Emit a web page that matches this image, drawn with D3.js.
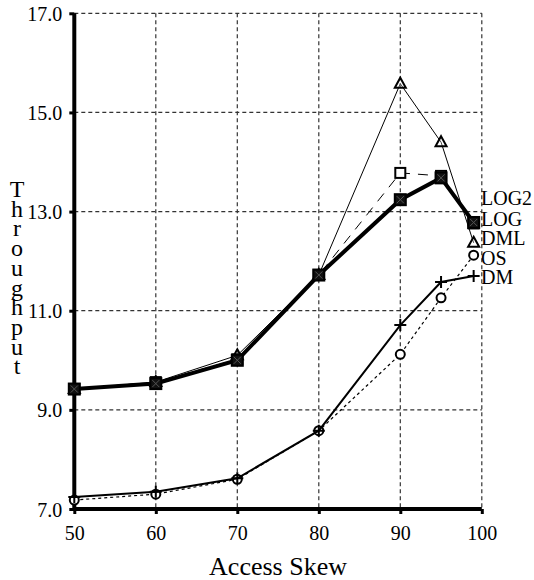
<!DOCTYPE html>
<html><head><meta charset="utf-8">
<script src="https://cdn.jsdelivr.net/npm/d3@7"></script>
<style>body{margin:0;background:#fff}svg{display:block}svg text{font-family:"Liberation Serif","Times New Roman",serif !important;fill:#000}</style>
</head><body><svg id="c" width="534" height="580"></svg>
<script>
const skew = [50, 60, 70, 80, 90, 95, 99];
const log2 = [9.42, 9.56, 10.02, 11.72, 13.78, 13.72, 12.76];
const logS = [9.42, 9.53, 10.0, 11.72, 13.24, 13.68, 12.78];
const dml  = [9.42, 9.56, 10.1, 11.72, 15.58, 14.4, 12.37];
const os   = [7.18, 7.3, 7.6, 8.58, 10.12, 11.26, 12.12];
const dm   = [7.24, 7.35, 7.62, 8.58, 10.71, 11.58, 11.7];
const xTicks = [50, 60, 70, 80, 90, 100];
const yTicks = [7, 9, 11, 13, 15, 17];
const labels = ["LOG2", "LOG", "DML", "OS", "DM"];
const yTitle = "Throughput";
const xTitle = "Access Skew";

const svg = d3.select("#c");
const x = d3.scaleLinear().domain([50, 100]).range([74.3, 481.8]);
const y = d3.scaleLinear().domain([7, 17]).range([509, 13.3]);

// grid
const g = svg.append("g").attr("stroke", "#333").attr("stroke-width", 1.2).attr("stroke-dasharray", "4,3");
xTicks.slice(1).forEach(t => g.append("line").attr("x1", x(t)).attr("x2", x(t)).attr("y1", y(17)).attr("y2", y(7)));
yTicks.slice(1).forEach(t => g.append("line").attr("x1", x(50)).attr("x2", x(100)).attr("y1", y(t)).attr("y2", y(t)));

// axes
const xa = svg.append("g").attr("transform", `translate(0,${y(7)})`)
  .call(d3.axisBottom(x).tickValues(xTicks).tickFormat(d3.format("d")).tickSize(5).tickPadding(12));
const ya = svg.append("g").attr("transform", `translate(${x(50)},0)`)
  .call(d3.axisLeft(y).tickValues(yTicks).tickFormat(d3.format(".1f")).tickSize(5).tickPadding(7));
[xa, ya].forEach(a => {
  a.attr("font-family", null).attr("font-size", null);
  a.select(".domain").attr("stroke", "#000").attr("stroke-width", 4);
  a.selectAll(".tick line").attr("stroke", "#000").attr("stroke-width", 3);
  a.selectAll(".tick text").style("font-size", "20px").style("font-family", "'Liberation Serif', serif");
});
xa.select(".domain").attr("d", `M${x(50)},0H${x(100)}`);
ya.select(".domain").attr("d", `M0,${y(17)}V${y(7)}`);
ya.selectAll(".tick text").attr("dy", "0.35em");

const line = d3.line().x((d, i) => x(skew[i])).y(d => y(d));

function series(data, opts) {
  svg.append("path").datum(data).attr("d", line).attr("fill", "none")
    .attr("stroke", "#000").attr("stroke-width", opts.w).attr("stroke-dasharray", opts.dash || null);
  const mg = svg.append("g");
  data.forEach((v, i) => {
    const cx = x(skew[i]), cy = y(v);
    if (opts.m === "sq") {
      mg.append("rect").attr("x", cx - 5).attr("y", cy - 5).attr("width", 10).attr("height", 10)
        .attr("fill", opts.fill).attr("stroke", "#000").attr("stroke-width", 2);
    } else if (opts.m === "sqx") {
      mg.append("rect").attr("x", cx - 5.5).attr("y", cy - 5.5).attr("width", 11).attr("height", 11)
        .attr("fill", "#111").attr("stroke", "#000").attr("stroke-width", 2);
      mg.append("path").attr("d", `M${cx-3.5},${cy-3.5}L${cx+3.5},${cy+3.5}M${cx+3.5},${cy-3.5}L${cx-3.5},${cy+3.5}`).attr("stroke", "#555").attr("stroke-width", 1);
    } else if (opts.m === "tri") {
      mg.append("path").attr("d", `M${cx},${cy-6}L${cx+5.5},${cy+4}L${cx-5.5},${cy+4}Z`)
        .attr("fill", "#fff").attr("fill-opacity", 0.3).attr("stroke", "#000").attr("stroke-width", 2);
    } else if (opts.m === "circ") {
      mg.append("circle").attr("cx", cx).attr("cy", cy).attr("r", 4.5)
        .attr("fill", "#fff").attr("stroke", "#000").attr("stroke-width", 2);
    } else if (opts.m === "plus") {
      mg.append("path").attr("d", `M${cx-6},${cy}H${cx+6}M${cx},${cy-6}V${cy+6}`)
        .attr("stroke", "#000").attr("stroke-width", 2);
    }
  });
}
series(os, {w: 1.2, dash: "3,3", m: "circ"});
series(dm, {w: 2, m: "plus"});
series(dml, {w: 1, m: "tri"});
series(log2, {w: 1, dash: "10,8", m: "sq", fill: "#fff"});
series(logS, {w: 4, m: "sqx"});

// labels
const ly = [205, 226, 245, 264.5, 284];
labels.forEach((t, i) => svg.append("text").attr("x", 481).attr("y", ly[i]).attr("font-size", 20).text(t));

// y title stacked (one text, one tspan per letter)
const yt = svg.append("text").attr("x", 17).attr("y", 197).attr("text-anchor", "middle").attr("font-size", 24);
yTitle.split("").forEach((c, i) => yt.append("tspan").attr("x", 17).attr("dy", i === 0 ? 0 : 19.7).text(c));
svg.append("text").attr("x", (x(50) + x(100)) / 2).attr("y", 575).attr("text-anchor", "middle")
  .attr("font-size", 26).text(xTitle);
</script></body></html>
